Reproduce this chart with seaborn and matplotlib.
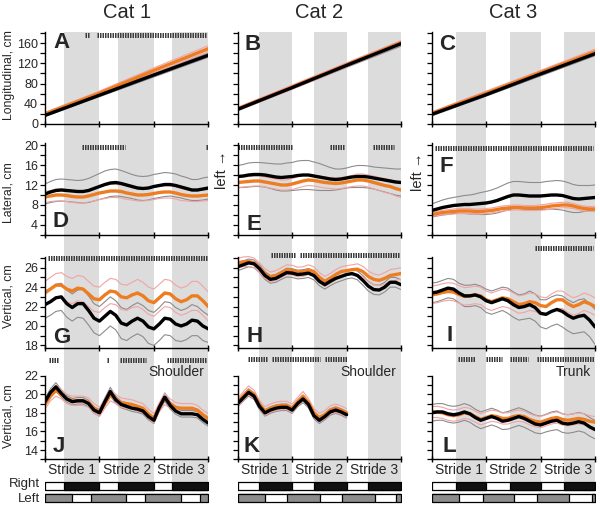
import numpy as np
import matplotlib
matplotlib.use('Agg')
import matplotlib.pyplot as plt
from matplotlib.ticker import MultipleLocator
import seaborn as sns

sns.set_theme(style='ticks')
plt.rcParams['font.family'] = ['Liberation Sans', 'DejaVu Sans']

# ---- data (x in strides) ----
phase_lin = [0, 1, 2, 3]
phase = np.linspace(0, 3, 31)
phase_k = phase[:21]

cats = ['Cat 1', 'Cat 2', 'Cat 3']
stride_labels = ['Stride 1', 'Stride 2', 'Stride 3']
segment_labels = ['Shoulder', 'Shoulder', 'Trunk']

# right stance (black bar / grey band) and left stance (grey bar), per cat
right_stance = [[(0.34, 0.66), (1.34, 0.66), (2.34, 0.66)],
                [(0.40, 0.60), (1.41, 0.59), (2.40, 0.60)],
                [(0.44, 0.56), (1.44, 0.56), (2.43, 0.57)]]
left_stance = [[(0, 0.49), (0.84, 0.65), (1.83, 0.67), (2.84, 0.16)],
               [(0, 0.51), (0.90, 0.61), (1.91, 0.61), (2.91, 0.09)],
               [(0, 0.50), (0.94, 0.57), (1.94, 0.59), (2.94, 0.06)]]

# longitudinal
a_black = [17, 57, 97, 136]
a_black_sd = [2, 3, 4, 4]
a_orange = [20, 61, 106, 149]
a_orange_sd = [3, 4, 5, 6]
b_black = [29, 72, 116, 159]
b_black_sd = [3, 3, 4, 5]
b_orange = [30, 73, 117, 161]
b_orange_sd = [3, 4, 4, 4]
c_black = [19, 58, 99, 139]
c_black_sd = [3, 3, 4, 4]
c_orange = [21, 61, 102, 143]
c_orange_sd = [3, 4, 4, 5]

# lateral
d_black = [10.2, 10.6, 10.9, 11.0, 10.9, 10.8, 10.7, 10.7, 10.9, 11.3, 11.7, 12.1, 12.4, 12.5, 12.3, 12.0,
           11.7, 11.4, 11.3, 11.4, 11.7, 11.9, 12.1, 12.1, 11.9, 11.6, 11.3, 11.0, 11.0, 11.2, 11.4]
d_black_sd = [2.0, 2.1, 2.2, 2.2, 2.2, 2.2, 2.2, 2.3, 2.4, 2.5, 2.6, 2.7, 2.7, 2.7, 2.6, 2.5,
              2.4, 2.4, 2.4, 2.4, 2.4, 2.4, 2.4, 2.3, 2.3, 2.2, 2.2, 2.1, 2.1, 2.2, 2.2]
d_orange = [9.6, 9.8, 10.0, 10.0, 9.9, 9.7, 9.6, 9.6, 9.8, 10.1, 10.4, 10.6, 10.8, 10.8, 10.7, 10.4,
            10.2, 10.0, 10.0, 10.1, 10.3, 10.5, 10.6, 10.6, 10.4, 10.1, 9.9, 9.8, 9.8, 9.9, 10.0]
d_orange_sd = [1.1, 1.1, 1.2, 1.2, 1.2, 1.2, 1.2, 1.2, 1.2, 1.3, 1.3, 1.3, 1.3, 1.3, 1.3, 1.3,
               1.2, 1.2, 1.2, 1.2, 1.2, 1.2, 1.2, 1.2, 1.2, 1.2, 1.1, 1.1, 1.1, 1.1, 1.1]
e_black = [13.7, 13.8, 14.0, 14.1, 14.1, 14.0, 13.8, 13.6, 13.5, 13.6, 13.7, 13.9, 14.0, 14.0, 13.8, 13.6,
           13.4, 13.2, 13.1, 13.2, 13.4, 13.6, 13.7, 13.7, 13.6, 13.4, 13.2, 13.0, 12.8, 12.6, 12.5]
e_black_sd = [2.2, 2.3, 2.4, 2.4, 2.4, 2.4, 2.5, 2.6, 2.7, 2.8, 2.8, 2.9, 2.9, 2.9, 2.8, 2.7,
              2.5, 2.3, 2.1, 2.0, 2.0, 2.1, 2.2, 2.2, 2.2, 2.2, 2.3, 2.4, 2.5, 2.6, 2.7]
e_orange = [12.5, 12.6, 12.7, 12.8, 12.8, 12.6, 12.4, 12.2, 12.0, 12.0, 12.2, 12.5, 12.8, 13.0, 12.9, 12.7,
            12.5, 12.4, 12.3, 12.4, 12.6, 12.8, 13.0, 13.0, 12.8, 12.5, 12.2, 11.9, 11.7, 11.3, 11.0]
e_orange_sd = [1.0, 1.0, 1.0, 1.0, 1.0, 1.0, 1.0, 1.0, 1.0, 1.0, 1.1, 1.1, 1.1, 1.1, 1.1, 1.1,
               1.1, 1.1, 1.1, 1.1, 1.1, 1.1, 1.2, 1.2, 1.2, 1.3, 1.3, 1.4, 1.4, 1.5, 1.5]
f_black = [6.9, 7.2, 7.5, 7.7, 7.9, 8.0, 8.1, 8.1, 8.2, 8.3, 8.4, 8.6, 8.9, 9.3, 9.7, 10.0,
           10.0, 9.9, 9.8, 9.8, 9.8, 9.9, 10.0, 10.0, 9.9, 9.6, 9.3, 9.2, 9.3, 9.4, 9.5]
f_black_sd = [1.3, 1.4, 1.5, 1.6, 1.6, 1.7, 1.8, 1.9, 2.0, 2.2, 2.3, 2.4, 2.5, 2.6, 2.7, 2.7,
              2.7, 2.7, 2.7, 2.7, 2.7, 2.8, 2.8, 2.9, 2.9, 2.9, 2.8, 2.7, 2.6, 2.5, 2.5]
f_orange = [6.1, 6.3, 6.5, 6.6, 6.7, 6.8, 6.8, 6.8, 6.7, 6.7, 6.8, 6.9, 7.1, 7.3, 7.4, 7.5,
            7.5, 7.4, 7.4, 7.4, 7.5, 7.6, 7.8, 7.9, 8.0, 8.0, 7.8, 7.5, 7.3, 7.2, 7.2]
f_orange_sd = [0.4, 0.4, 0.45, 0.45, 0.5, 0.5, 0.5, 0.5, 0.5, 0.5, 0.5, 0.5, 0.5, 0.5, 0.5, 0.5,
               0.5, 0.5, 0.5, 0.5, 0.55, 0.55, 0.55, 0.55, 0.55, 0.55, 0.5, 0.5, 0.5, 0.5, 0.5]

# vertical
g_black = [22.2, 22.5, 22.9, 23.0, 22.3, 21.9, 22.3, 22.3, 21.6, 20.8, 20.5, 21.0, 21.5, 21.1, 20.3, 20.1,
           20.5, 20.8, 20.5, 19.9, 19.7, 20.2, 20.8, 20.7, 20.2, 20.0, 20.2, 20.6, 20.5, 20.0, 19.7]
g_black_sd = [1.4, 1.4, 1.4, 1.4, 1.4, 1.4, 1.4, 1.5, 1.5, 1.5, 1.5, 1.5, 1.5, 1.5, 1.6, 1.6,
              1.6, 1.6, 1.6, 1.7, 1.7, 1.7, 1.7, 1.7, 1.7, 1.6, 1.6, 1.6, 1.5, 1.5, 1.4]
g_orange = [23.4, 23.8, 24.2, 24.2, 23.8, 23.6, 23.9, 23.8, 23.3, 22.8, 22.7, 23.2, 23.6, 23.5, 23.0, 22.9,
            23.2, 23.4, 23.1, 22.6, 22.4, 22.9, 23.4, 23.3, 22.8, 22.5, 22.7, 23.1, 23.1, 22.6, 22.0]
g_orange_sd = [1.2, 1.2, 1.2, 1.3, 1.3, 1.3, 1.3, 1.3, 1.3, 1.3, 1.3, 1.3, 1.3, 1.3, 1.3, 1.3,
               1.3, 1.4, 1.4, 1.4, 1.4, 1.4, 1.4, 1.4, 1.4, 1.4, 1.4, 1.5, 1.5, 1.5, 1.5]
h_black = [26.1, 26.3, 26.5, 26.4, 25.9, 25.2, 24.8, 24.9, 25.2, 25.5, 25.45, 25.3, 25.35, 25.45, 25.2, 24.6,
           24.25, 24.6, 24.9, 25.1, 25.3, 25.4, 25.2, 24.7, 24.1, 23.75, 23.7, 24.0, 24.5, 24.5, 24.25]
h_black_sd = [0.4, 0.4, 0.4, 0.4, 0.4, 0.4, 0.4, 0.4, 0.4, 0.45, 0.45, 0.45, 0.45, 0.45, 0.45, 0.45,
              0.45, 0.45, 0.45, 0.45, 0.45, 0.45, 0.45, 0.5, 0.5, 0.5, 0.5, 0.5, 0.5, 0.5, 0.5]
h_orange = [26.5, 26.6, 26.65, 26.5, 26.0, 25.4, 25.05, 25.2, 25.5, 25.8, 25.75, 25.55, 25.6, 25.8, 25.6, 25.0,
            24.6, 24.9, 25.3, 25.6, 25.7, 25.8, 25.85, 25.6, 25.1, 24.8, 24.7, 24.9, 25.2, 25.3, 25.4]
h_orange_sd = [0.5, 0.5, 0.5, 0.5, 0.5, 0.5, 0.5, 0.5, 0.5, 0.5, 0.5, 0.5, 0.5, 0.5, 0.5, 0.5,
               0.5, 0.5, 0.5, 0.5, 0.5, 0.5, 0.55, 0.55, 0.55, 0.55, 0.55, 0.6, 0.6, 0.6, 0.6]
i_black = [23.4, 23.5, 23.7, 23.9, 23.8, 23.4, 23.1, 23.1, 23.2, 23.0, 22.6, 22.4, 22.6, 22.8, 22.6, 22.2,
           21.9, 22.0, 22.2, 21.9, 21.3, 21.2, 21.5, 21.7, 21.5, 21.1, 20.8, 21.0, 21.1, 20.6, 19.9]
i_black_sd = [1.0, 1.0, 1.0, 1.0, 1.0, 1.0, 1.1, 1.1, 1.1, 1.1, 1.2, 1.2, 1.2, 1.2, 1.3, 1.3,
              1.3, 1.3, 1.4, 1.4, 1.4, 1.5, 1.5, 1.5, 1.6, 1.6, 1.6, 1.7, 1.7, 1.7, 1.8]
i_orange = [23.2, 23.3, 23.45, 23.55, 23.5, 23.25, 23.05, 23.1, 23.2, 23.1, 22.7, 22.5, 22.7, 22.9, 22.8, 22.5,
            22.2, 22.3, 22.5, 22.4, 22.1, 22.0, 22.4, 22.7, 22.7, 22.3, 22.0, 22.2, 22.5, 22.3, 22.0]
i_orange_sd = [0.9, 0.9, 0.9, 0.9, 0.9, 0.9, 0.9, 0.9, 0.9, 0.9, 0.9, 0.9, 0.9, 0.9, 0.9, 0.9,
               0.9, 0.9, 0.9, 0.9, 0.9, 0.9, 0.9, 0.9, 0.9, 0.9, 0.9, 0.9, 0.9, 0.9, 0.9]
j_black = [19.2, 20.2, 20.8, 20.1, 19.5, 19.2, 19.3, 19.3, 19.0, 18.3, 18.0, 19.2, 20.3, 19.4, 18.9, 18.7,
           18.5, 18.4, 18.2, 17.6, 17.2, 18.6, 19.7, 18.8, 18.2, 17.9, 17.9, 17.9, 17.8, 17.3, 16.9]
j_black_sd = [0.35, 0.4, 0.45, 0.4, 0.35, 0.35, 0.35, 0.35, 0.35, 0.35, 0.35, 0.4, 0.45, 0.4, 0.35, 0.35,
              0.35, 0.35, 0.35, 0.35, 0.35, 0.4, 0.45, 0.4, 0.35, 0.35, 0.35, 0.35, 0.35, 0.35, 0.35]
j_orange = [18.9, 19.8, 20.4, 20.0, 19.5, 19.3, 19.3, 19.3, 19.1, 18.5, 18.1, 19.0, 19.9, 19.5, 19.1, 19.0,
            18.9, 18.7, 18.5, 17.9, 17.4, 18.6, 19.5, 19.0, 18.6, 18.5, 18.5, 18.5, 18.3, 17.8, 17.4]
j_orange_sd = [0.5, 0.5, 0.6, 0.5, 0.5, 0.5, 0.5, 0.5, 0.5, 0.5, 0.5, 0.5, 0.6, 0.5, 0.5, 0.5,
               0.5, 0.5, 0.5, 0.5, 0.5, 0.5, 0.6, 0.5, 0.5, 0.5, 0.5, 0.5, 0.5, 0.5, 0.5]
k_black = [19.0, 19.6, 20.2, 19.8, 18.7, 18.0, 18.3, 18.5, 18.6, 18.6, 18.3,
           19.0, 19.5, 18.9, 17.7, 17.2, 17.6, 18.1, 18.3, 18.1, 17.8]
k_black_sd = [0.35, 0.35, 0.4, 0.35, 0.35, 0.35, 0.35, 0.35, 0.35, 0.35, 0.35,
              0.35, 0.4, 0.35, 0.35, 0.35, 0.35, 0.35, 0.35, 0.35, 0.35]
k_orange = [19.1, 19.8, 20.4, 20.0, 18.9, 18.2, 18.5, 18.7, 18.8, 18.8, 18.5,
            19.2, 19.8, 19.1, 18.0, 17.5, 17.8, 18.3, 18.5, 18.3, 18.0]
k_orange_sd = [0.45, 0.45, 0.5, 0.45, 0.45, 0.45, 0.45, 0.45, 0.45, 0.45, 0.45,
               0.45, 0.5, 0.45, 0.45, 0.45, 0.45, 0.45, 0.45, 0.45, 0.45]
l_black = [18.0, 18.1, 18.1, 17.9, 17.8, 17.9, 18.1, 17.9, 17.5, 17.2, 17.4, 17.6, 17.4, 17.1, 17.2, 17.4,
           17.6, 17.4, 17.1, 16.8, 16.7, 16.9, 17.1, 17.2, 16.9, 16.8, 16.9, 17.05, 16.9, 16.5, 16.2]
l_black_sd = [0.9, 0.9, 0.9, 0.9, 0.9, 0.9, 0.9, 0.9, 0.9, 0.9, 0.9, 0.9, 0.9, 0.9, 0.95, 0.95,
              0.95, 0.95, 0.95, 0.95, 0.95, 0.95, 1.0, 1.0, 1.0, 1.0, 1.0, 1.0, 1.0, 1.0, 1.0]
l_orange = [18.1, 18.1, 18.0, 17.8, 17.7, 17.8, 18.0, 17.9, 17.6, 17.3, 17.5, 17.7, 17.6, 17.4, 17.4, 17.6,
            17.7, 17.6, 17.3, 17.1, 17.0, 17.2, 17.4, 17.5, 17.3, 17.2, 17.3, 17.4, 17.3, 17.1, 17.0]
l_orange_sd = [0.6, 0.6, 0.6, 0.6, 0.6, 0.6, 0.6, 0.6, 0.6, 0.6, 0.6, 0.6, 0.6, 0.6, 0.6, 0.6,
               0.6, 0.6, 0.6, 0.6, 0.6, 0.6, 0.6, 0.6, 0.6, 0.6, 0.6, 0.6, 0.6, 0.6, 0.6]

# significance (asterisk rows): (start, end) in strides, and height
sig_a = [(0.74, 0.83), (0.95, 2.98)]
sig_b = []
sig_c = []
sig_d = [(0.68, 1.47), (2.96, 2.99)]
sig_e = [(0.0, 0.99), (1.70, 1.97), (2.48, 2.87)]
sig_f = [(0.06, 2.96)]
sig_g = [(0.06, 3.0)]
sig_h = [(0.61, 1.08), (1.15, 2.99)]
sig_i = [(1.90, 2.97)]
sig_j = [(0.08, 0.25), (1.13, 1.17), (1.37, 1.86), (2.24, 2.98)]
sig_k = [(0.19, 0.54), (0.63, 1.51), (1.60, 2.0)]
sig_l = [(0.49, 0.80), (1.0, 1.30), (1.44, 1.77), (1.94, 3.0)]
sig_y = [176, 176, 176, 19.7, 19.7, 19.5, 27.0, 27.3, 28.0, 23.7, 23.8, 23.8]

panels = [
    ('A', phase_lin, a_black, a_black_sd, a_orange, a_orange_sd, sig_a),
    ('B', phase_lin, b_black, b_black_sd, b_orange, b_orange_sd, sig_b),
    ('C', phase_lin, c_black, c_black_sd, c_orange, c_orange_sd, sig_c),
    ('D', phase, d_black, d_black_sd, d_orange, d_orange_sd, sig_d),
    ('E', phase, e_black, e_black_sd, e_orange, e_orange_sd, sig_e),
    ('F', phase, f_black, f_black_sd, f_orange, f_orange_sd, sig_f),
    ('G', phase, g_black, g_black_sd, g_orange, g_orange_sd, sig_g),
    ('H', phase, h_black, h_black_sd, h_orange, h_orange_sd, sig_h),
    ('I', phase, i_black, i_black_sd, i_orange, i_orange_sd, sig_i),
    ('J', phase, j_black, j_black_sd, j_orange, j_orange_sd, sig_j),
    ('K', phase_k, k_black, k_black_sd, k_orange, k_orange_sd, sig_k),
    ('L', phase, l_black, l_black_sd, l_orange, l_orange_sd, sig_l),
]

# ---- layout (pixels) ----
W, H = 600, 507
ORANGE = '#EE7D22'
PINK = '#F2A3A3'
GREY = '#8C8C8C'
BAND = '#DCDCDC'

col_x = [(45.0, 208.3), (237.7, 401.0), (431.7, 595.0)]
row_y = [(32.0, 124.0), (142.5, 235.0), (245.4, 348.3), (355.3, 459.3)]
row_lim = [(0, 182), (2, 20.5), (17.7, 28.3), (13, 24.2)]
row_spine = [(0, 182), (2, 20.5), (17.7, 27.1), (13, 22)]
row_major = [40, 4, 2, 2]
row_minor = [20, 2, 1, 1]
row_ylabel = ['Longitudinal, cm', 'Lateral, cm', 'Vertical, cm', 'Vertical, cm']
ylabel_y = [75, 193, 296, 416]
letter_pos = {'A': (53, 48), 'B': (245, 50), 'C': (439, 50),
              'D': (53, 227), 'E': (247, 230), 'F': (440, 172),
              'G': (53, 343), 'H': (247, 342), 'I': (446, 341),
              'J': (53, 452), 'K': (243, 452), 'L': (442, 452)}


def rect(x0, x1, y0, y1):
    return [x0 / W, 1 - y1 / H, (x1 - x0) / W, (y1 - y0) / H]


fig = plt.figure(figsize=(W / 100, H / 100), dpi=100)

# background grey bands (right stance) and gait bars
for c, (x0, x1) in enumerate(col_x):
    bg = fig.add_axes(rect(x0, x1, 32, 481), zorder=0)
    bg.set_xlim(0, 3)
    bg.set_ylim(0, 1)
    for s, w in right_stance[c]:
        bg.axvspan(s, s + w, color=BAND, lw=0)
    bg.axis('off')

    bar = fig.add_axes(rect(x0, x1, 481, 503), zorder=0)
    bar.set_xlim(0, 3)
    bar.set_ylim(0, 22)
    bar.broken_barh([(0, 3)], (13, 8), facecolors='white', edgecolors='black', lw=0.9)
    bar.broken_barh(right_stance[c], (13, 8), facecolors='#111111', edgecolors='black', lw=0.9)
    bar.broken_barh([(0, 3)], (1, 8), facecolors='white', edgecolors='black', lw=0.9)
    bar.broken_barh(left_stance[c], (1, 8), facecolors=GREY, edgecolors='black', lw=0.9)
    bar.axis('off')

    fig.text((x0 + x1) / 2 / W, 1 - 13 / H, cats[c], ha='center', va='center', fontsize=14.5)

fig.text(40 / W, 1 - 484.5 / H, 'Right', ha='right', va='center', fontsize=9.5)
fig.text(40 / W, 1 - 498.5 / H, 'Left', ha='right', va='center', fontsize=9.5)
fig.text(222 / W, 1 - 170 / H, 'left \u2192', ha='center', va='center', rotation=90, fontsize=10.5)
fig.text(418 / W, 1 - 172 / H, 'left \u2192', ha='center', va='center', rotation=90, fontsize=10.5)

for i, (letter, x, black, black_sd, orange, orange_sd, sig) in enumerate(panels):
    r, c = divmod(i, 3)
    ax = fig.add_axes(rect(col_x[c][0], col_x[c][1], row_y[r][0], row_y[r][1]), zorder=1)
    ax.patch.set_alpha(0)

    black = np.array(black)
    orange = np.array(orange)
    black_sd = np.array(black_sd)
    orange_sd = np.array(orange_sd)
    for sign in (1, -1):
        sns.lineplot(x=x, y=black + sign * black_sd, ax=ax, color=GREY, lw=0.8)
        sns.lineplot(x=x, y=orange + sign * orange_sd, ax=ax, color=PINK, lw=0.8)
    sns.lineplot(x=x, y=orange, ax=ax, color=ORANGE, lw=2.4)
    sns.lineplot(x=x, y=black, ax=ax, color='black', lw=2.4)

    for s0, s1 in sig:
        ax.hlines(sig_y[i], s0, s1, color='#3c3c3c', lw=3.6, linestyles=(0, (0.3, 0.2)))

    ax.set_xlim(0, 3)
    ax.set_ylim(*row_lim[r])
    sns.despine(ax=ax)
    ax.spines['left'].set_bounds(*row_spine[r])
    for sp in ('left', 'bottom'):
        ax.spines[sp].set_linewidth(1.0)
        ax.spines[sp].set_color('black')

    ax.set_xticks([0, 1, 2, 3])
    ax.set_xticklabels([])
    ax.tick_params(axis='x', which='major', direction='inout', length=5, width=1.0, color='black')
    ax.yaxis.set_major_locator(MultipleLocator(row_major[r]))
    ax.yaxis.set_minor_locator(MultipleLocator(row_minor[r]))
    ax.tick_params(axis='y', which='both', direction='out', width=0.9, color='black',
                   labelsize=9, pad=1.5)
    ax.tick_params(axis='y', which='major', length=3.5)
    ax.tick_params(axis='y', which='minor', length=3.5)
    # keep ticks inside the spine range
    lo, hi = row_spine[r]
    ax.set_yticks([t for t in ax.get_yticks() if lo - 1e-6 <= t <= hi + 1e-6])
    ax.set_yticks([t for t in ax.get_yticks(minor=True) if lo - 1e-6 <= t <= hi + 1e-6], minor=True)
    if c != 0:
        ax.set_yticklabels([])
    ax.set_xlabel('')
    ax.set_ylabel('')

    if r == 3:
        ax.set_xticks([0.5, 1.5, 2.5], minor=True)
        ax.set_xticklabels(stride_labels, minor=True, fontsize=10)
        ax.tick_params(axis='x', which='minor', length=0, pad=2.5)
        ax.text(2.92, 22.35, segment_labels[c], ha='right', va='center', fontsize=10)

    lx, ly = letter_pos[letter]
    fig.text(lx / W, 1 - ly / H, letter, ha='left', va='baseline', fontsize=16,
             fontweight='bold', zorder=3)

for r in range(4):
    fig.text(9 / W, 1 - ylabel_y[r] / H, row_ylabel[r], rotation=90, ha='center', va='center',
             fontsize=8.8)

fig.savefig('out.png', dpi=100)
